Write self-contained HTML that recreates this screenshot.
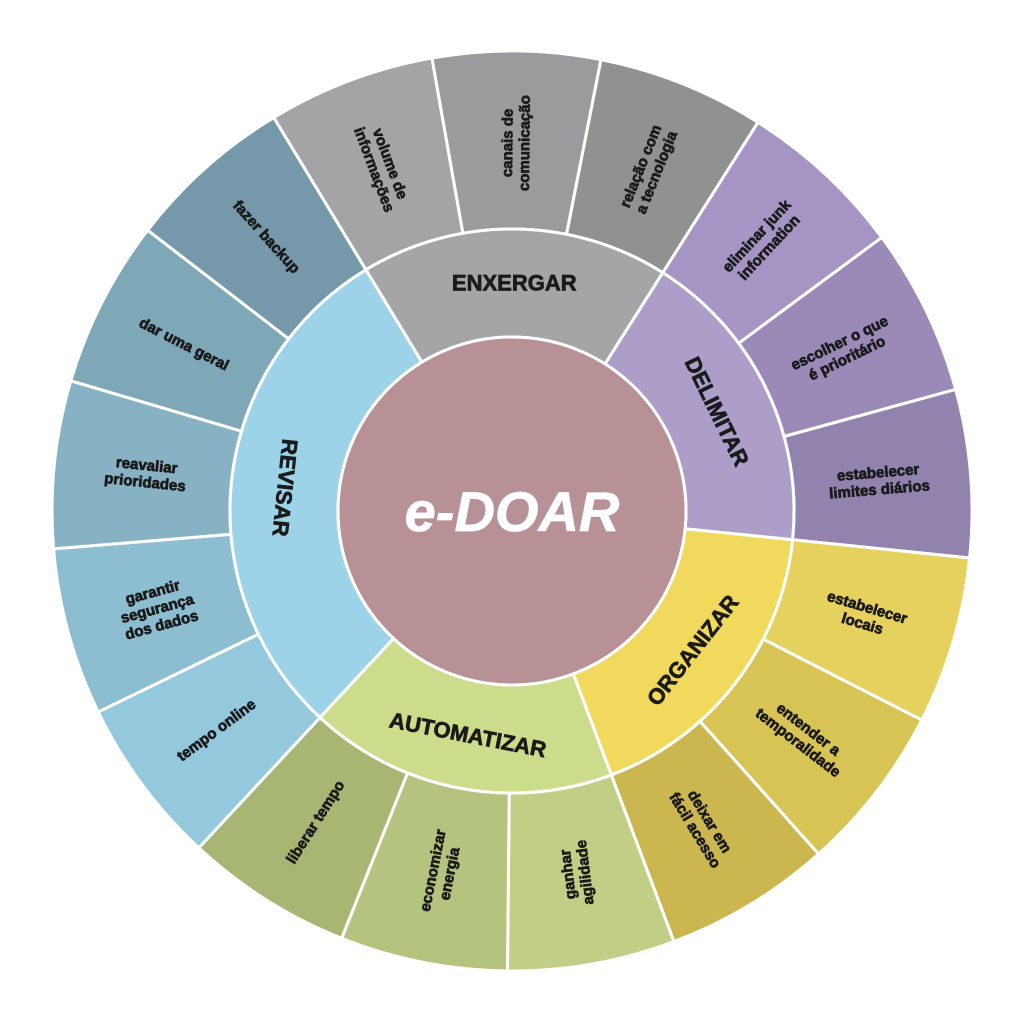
<!DOCTYPE html>
<html><head><meta charset="utf-8"><style>
html,body{margin:0;padding:0;background:#fff;width:1024px;height:1015px;overflow:hidden}
svg text{font-family:"Liberation Sans",sans-serif;font-weight:bold;fill:#1b1b1b;stroke:#1b1b1b;stroke-width:0.7px}
</style></head><body>
<svg id="s" width="1024" height="1015" viewBox="0 0 1024 1015" xmlns="http://www.w3.org/2000/svg"></svg>
<script>
var cx=512,cy=511,R0=174,R1=282,R2=460;
var svg=document.getElementById('s');
var NS='http://www.w3.org/2000/svg';
function rad(a){return a*Math.PI/180}
function pt(r,a){return [cx+r*Math.cos(rad(a)),cy+r*Math.sin(rad(a))]}
function sector(r1,r2,a1,a2,fill){
  var p1=pt(r2,a1),p2=pt(r2,a2),p3=pt(r1,a2),p4=pt(r1,a1);
  var large=(a2-a1)>180?1:0;
  var d='M'+p1+' A'+r2+' '+r2+' 0 '+large+' 1 '+p2+' L'+p3+' A'+r1+' '+r1+' 0 '+large+' 0 '+p4+' Z';
  var e=document.createElementNS(NS,'path');
  e.setAttribute('d',d);e.setAttribute('fill',fill);e.setAttribute('stroke','#fff');e.setAttribute('stroke-width','3');
  svg.appendChild(e);
}
function label(lines,r,a,rot,size,ls){
  var p=pt(r,a);
  var g=document.createElementNS(NS,'g');
  g.setAttribute('transform','translate('+p[0]+','+p[1]+') rotate('+rot+')');
  var n=lines.length;
  for(var i=0;i<n;i++){
    var t=document.createElementNS(NS,'text');
    t.setAttribute('x',0);
    t.setAttribute('y',(i-(n-1)/2)*ls+size*0.35);
    t.setAttribute('text-anchor','middle');
    t.setAttribute('font-size',size);
    t.textContent=lines[i];
    g.appendChild(t);
  }
  svg.appendChild(g);
}
var a0=-121.2,st=360/17;
var outer=[
 ['#a4a4a6',['volume de','informações'],69.4],
 ['#9b9b9d',['canais de','comunicação'],-89.4],
 ['#909190',['relação com','a tecnologia'],-68.2],
 ['#a594c4',['eliminar junk','information'],-47.1],
 ['#9b8ab8',['escolher o que','é prioritário'],-25.9],
 ['#9283ae',['estabelecer','limites diários'],-4.7],
 ['#e6d05e',['estabelecer','locais'],16.5],
 ['#d8c454',['entender a','temporalidade'],37.6],
 ['#cbb650',['deixar em','fácil acesso'],58.8],
 ['#c0cf85',['ganhar','agilidade'],-97],
 ['#b4c47e',['economizar','energia'],-78.8],
 ['#a8b674',['liberar tempo'],-57.6],
 ['#94c8dd',['tempo online'],-36.5],
 ['#8dbdd0',['garantir','segurança','dos dados'],-15.3],
 ['#86b2c4',['reavaliar','prioridades'],5.9],
 ['#7ea7b8',['dar uma geral'],27.1],
 ['#7599aa',['fazer backup'],48.2]
];
for(var k=0;k<17;k++){
  sector(R1,R2,a0+st*k,a0+st*(k+1),outer[k][0]);
}
var mid=[
 ['#a5a5a7','ENXERGAR',0,3,0],
 ['#ad9dc9','DELIMITAR',3,6,64],
 ['#f0d95c','ORGANIZAR',6,9,-52],
 ['#cbdc8b','AUTOMATIZAR',9,12,11],
 ['#9dd3e8','REVISAR',12,17,96]
];
mid.forEach(function(m){sector(R0,R1,a0+st*m[2],a0+st*m[3],m[0]);});
var c=document.createElementNS(NS,'circle');
c.setAttribute('cx',cx);c.setAttribute('cy',cy);c.setAttribute('r',R0);
c.setAttribute('fill','#b89196');c.setAttribute('stroke','#fff');c.setAttribute('stroke-width','3');
svg.appendChild(c);
mid.forEach(function(m){
  var a=a0+st*(m[2]+m[3])/2;
  label([m[1]],228,a,m[4],22,24);
});
for(var k=0;k<17;k++){
  var a=a0+st*(k+0.5);
  label(outer[k][1],368,a,outer[k][2],15,17);
}
var t=document.createElementNS(NS,'text');
t.setAttribute('x',cx);t.setAttribute('y',cy+20);t.setAttribute('text-anchor','middle');
t.setAttribute('font-size','56');t.setAttribute('font-style','italic');
t.setAttribute('style','fill:#fff;stroke:#fff');
t.textContent='e-DOAR';
svg.appendChild(t);
</script>
</body></html>
